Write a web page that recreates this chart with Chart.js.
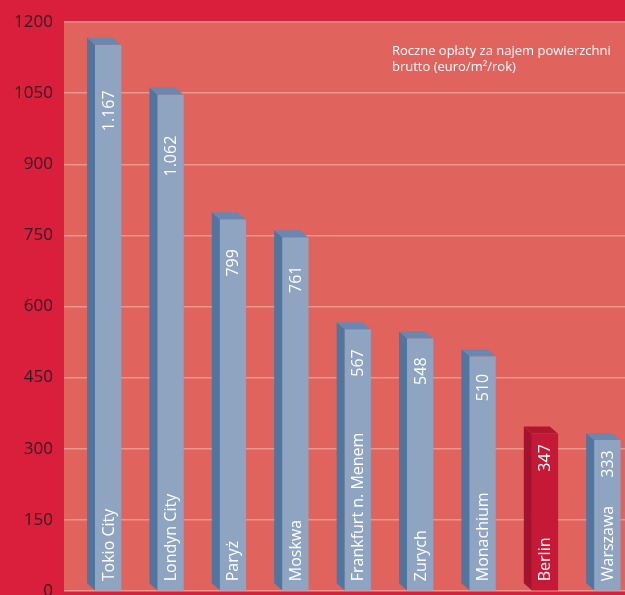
<!DOCTYPE html>
<html>
<head>
<meta charset="utf-8">
<script src="https://cdn.jsdelivr.net/npm/chart.js@4/dist/chart.umd.min.js"></script>
<style>
  html, body { margin: 0; padding: 0; background: #DA1F3D; overflow: hidden; }
  #wrap { width: 625px; height: 595px; position: relative; }
  canvas { display: block; }
</style>
</head>
<body>
<div id="wrap"><canvas id="c"></canvas></div>
<script>
const categories = ['Tokio City', 'Londyn City', 'Paryż', 'Moskwa', 'Frankfurt n. Menem', 'Zurych', 'Monachium', 'Berlin', 'Warszawa'];
const values = [1167, 1062, 799, 761, 567, 548, 510, 347, 333];
const highlighted = ['Berlin'];
const yTicks = [0, 150, 300, 450, 600, 750, 900, 1050, 1200];
const noteLines = ['Roczne opłaty za najem powierzchni', 'brutto (euro/m²/rok)'];

function fmt(v) {
  const s = String(v);
  return s.length > 3 ? s.slice(0, s.length - 3) + '.' + s.slice(-3) : s;
}

const COLORS = {
  page: '#DA1F3D',
  plot: '#E1635E',
  grid: '#EC978C',
  tick: '#2A1B20',
  front: '#8EA4C1', side: '#50759E', top: '#6A88AF',
  hFront: '#C51A37', hSide: '#A3132D', hTop: '#B11631'
};
const FONT = '"Open Sans", "DejaVu Sans", sans-serif';
const DX = 8, DY = 7;

const bgPlugin = {
  id: 'bgPlugin',
  beforeDraw(chart) {
    const { ctx, chartArea: a } = chart;
    ctx.save();
    ctx.fillStyle = COLORS.page;
    ctx.fillRect(0, 0, chart.width, chart.height);
    ctx.fillStyle = COLORS.plot;
    ctx.fillRect(a.left, a.top, a.right - a.left, a.bottom - a.top);
    ctx.restore();
  }
};

const bar3d = {
  id: 'bar3d',
  beforeDatasetsDraw(chart) {
    const { ctx } = chart;
    const meta = chart.getDatasetMeta(0);
    ctx.save();
    ctx.beginPath();
    meta.data.forEach(el => {
      const { x, y, base, width } = el.getProps(['x', 'y', 'base', 'width'], true);
      ctx.rect(x - width / 2 - 1, y + DY, width + 2, base - y - DY + 2);
    });
    ctx.clip();
  },
  afterDatasetsDraw(chart) {
    const { ctx } = chart;
    ctx.restore();
    const meta = chart.getDatasetMeta(0);
    ctx.save();
    meta.data.forEach((el, i) => {
      const { x, y, base, width } = el.getProps(['x', 'y', 'base', 'width'], true);
      const left = x - width / 2, right = x + width / 2;
      const front = y + DY;
      const hl = highlighted.includes(categories[i]);
      ctx.fillStyle = hl ? COLORS.hSide : COLORS.side;
      ctx.beginPath();
      ctx.moveTo(left - DX, y);
      ctx.lineTo(left, front);
      ctx.lineTo(left, base);
      ctx.lineTo(left - DX, base - DY);
      ctx.closePath();
      ctx.fill();
      ctx.fillStyle = hl ? COLORS.hTop : COLORS.top;
      ctx.beginPath();
      ctx.moveTo(left - DX, y);
      ctx.lineTo(right - DX, y);
      ctx.lineTo(right, front);
      ctx.lineTo(left, front);
      ctx.closePath();
      ctx.fill();

      ctx.fillStyle = '#FFFFFF';
      ctx.textBaseline = 'middle';
      ctx.font = '16px ' + FONT;
      ctx.save();
      ctx.translate(x + 1, base - 9);
      ctx.rotate(-Math.PI / 2);
      ctx.textAlign = 'left';
      ctx.fillText(categories[i], 0, 0);
      ctx.restore();
      const h = base - y;
      const gap = Math.max(8, 0.09 * h - 4);
      ctx.save();
      ctx.translate(x + 1, front + gap);
      ctx.rotate(-Math.PI / 2);
      ctx.textAlign = 'right';
      ctx.fillText(fmt(values[i]), 0, 0);
      ctx.restore();
    });
    ctx.restore();

    ctx.save();
    ctx.fillStyle = '#FFFFFF';
    ctx.font = '13px ' + FONT;
    ctx.textAlign = 'left';
    ctx.textBaseline = 'alphabetic';
    noteLines.forEach((t, k) => ctx.fillText(t, 392, 55 + k * 16));
    ctx.restore();
  }
};

new Chart(document.getElementById('c'), {
  type: 'bar',
  data: {
    datasets: [{
      data: values.map((v, i) => ({ x: i, y: v })),
      backgroundColor: categories.map(c => highlighted.includes(c) ? COLORS.hFront : COLORS.front),
      borderWidth: 0,
      barThickness: 26
    }]
  },
  options: {
    responsive: true,
    maintainAspectRatio: false,
    animation: false,
    layout: { padding: { top: 22, bottom: 4, left: 0, right: 0 } },
    plugins: { legend: { display: false }, tooltip: { enabled: false } },
    scales: {
      x: {
        type: 'linear',
        offset: false,
        min: -0.705,
        max: 8.285,
        display: false
      },
      y: {
        min: 0,
        max: 1200,
        afterBuildTicks(s) { s.ticks = yTicks.map(v => ({ value: v })); },
        afterFit(s) { s.width = 64; s.paddingTop = 0; s.paddingBottom = 0; },
        border: { display: false },
        grid: { color: COLORS.grid, lineWidth: 1.5, drawTicks: false },
        ticks: {
          padding: 11,
          color: COLORS.tick,
          font: { family: FONT, size: 17 },
          callback: v => String(v)
        }
      }
    }
  },
  plugins: [bgPlugin, bar3d]
});
</script>
</body>
</html>
